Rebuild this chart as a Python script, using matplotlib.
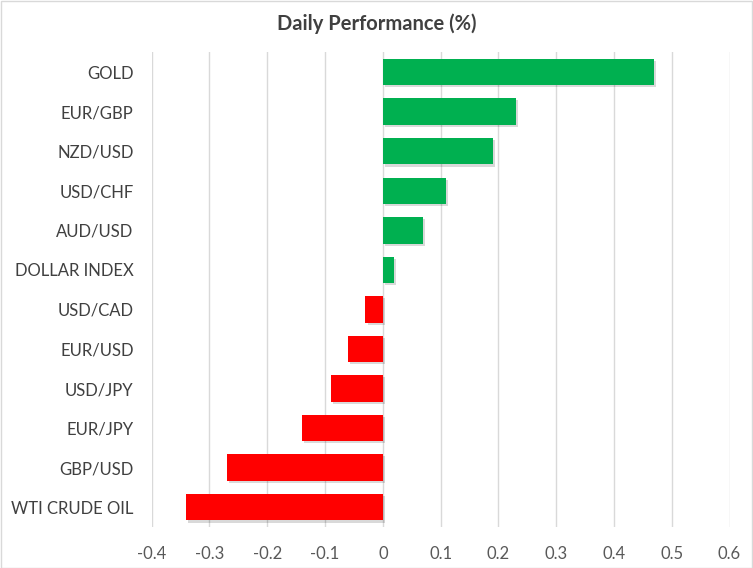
import matplotlib.pyplot as plt
import matplotlib.patheffects as pe
from matplotlib.patches import Rectangle

# dados
categorias = ['GOLD', 'EUR/GBP', 'NZD/USD', 'USD/CHF', 'AUD/USD', 'DOLLAR INDEX',
              'USD/CAD', 'EUR/USD', 'USD/JPY', 'EUR/JPY', 'GBP/USD', 'WTI CRUDE OIL']
valores = [0.47, 0.23, 0.19, 0.11, 0.07, 0.02,
           -0.03, -0.06, -0.09, -0.14, -0.27, -0.34]
xticks = [-0.4, -0.3, -0.2, -0.1, 0, 0.1, 0.2, 0.3, 0.4, 0.5, 0.6]
xtick_labels = ['-0.4', '-0.3', '-0.2', '-0.1', '0', '0.1', '0.2', '0.3', '0.4', '0.5', '0.6']

plt.rcParams['font.family'] = ['Lato', 'DejaVu Sans']

fig = plt.figure(figsize=(7.53, 5.68), dpi=100)
ax = fig.add_axes([151.7 / 753, 1 - 527 / 568, (729.5 - 151.7) / 753, (527 - 52.3) / 568])

cores = ['#00B050' if v >= 0 else '#FF0000' for v in valores]
pos = list(range(len(categorias)))
barras = ax.barh(pos, valores, height=0.67, color=cores, zorder=3)
for b in barras:
    b.set_path_effects([pe.SimplePatchShadow(offset=(1.5, -1.5), shadow_rgbFace='#000000', alpha=0.15),
                        pe.Normal()])

ax.set_ylim(len(categorias) - 0.5, -0.5)
ax.set_xlim(-0.4, 0.6)
ax.set_yticks(pos)
ax.set_yticklabels(categorias, fontsize=12, color='#404040')
ax.set_xticks(xticks)
ax.set_xticklabels(xtick_labels, fontsize=12, color='#595959')
ax.tick_params(axis='both', length=0)
ax.tick_params(axis='y', pad=13)
ax.tick_params(axis='x', pad=14)
ax.grid(axis='x', color='#D9D9D9', linewidth=1, zorder=0)
for s in ax.spines.values():
    s.set_visible(False)

fig.text(0.5, 1 - 24 / 568, 'Daily Performance (%)', ha='center', va='center',
         fontsize=14.5, fontweight='bold', color='#404040')

# borda do gráfico
fig.patches.append(Rectangle((0.5 / 753, 0.5 / 568), 1 - 1.5 / 753, 1 - 1.5 / 568,
                             transform=fig.transFigure, fill=False,
                             edgecolor='#D9D9D9', linewidth=1))

fig.savefig('out.png', dpi=100)
